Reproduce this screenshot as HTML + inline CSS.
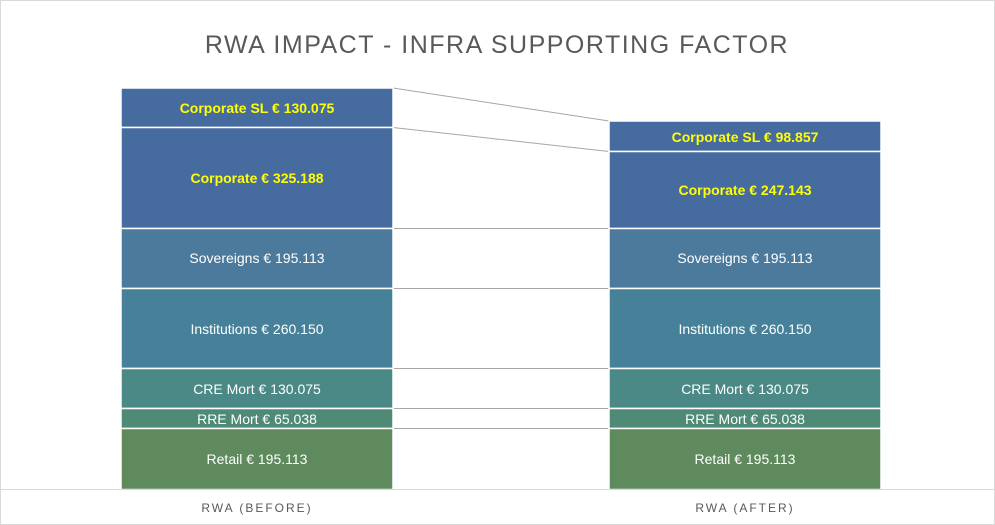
<!DOCTYPE html>
<html><head><style>body{margin:0;background:#fff}svg{display:block}</style></head><body>
<svg width="995" height="525" viewBox="0 0 995 525" xmlns="http://www.w3.org/2000/svg" font-family="Liberation Sans, sans-serif">
<rect x="0.5" y="0.5" width="994" height="524" fill="#fff" stroke="#d9d9d9"/>
<text x="497" y="53" text-anchor="middle" font-size="25" fill="#595959" letter-spacing="1.5">RWA IMPACT - INFRA SUPPORTING FACTOR</text>
<g stroke="#a6a6a6" stroke-width="1">
<line x1="393" y1="88" x2="609" y2="121"/>
<line x1="393" y1="127.5" x2="609" y2="151.5"/>
<line x1="393" y1="228.5" x2="609" y2="228.5"/>
<line x1="393" y1="288.5" x2="609" y2="288.5"/>
<line x1="393" y1="368.5" x2="609" y2="368.5"/>
<line x1="393" y1="408.5" x2="609" y2="408.5"/>
<line x1="393" y1="428.5" x2="609" y2="428.5"/>
</g>
<g stroke="#fff" stroke-width="1.5">
<rect x="121" y="88" width="272" height="39.5" fill="#466b9f"/>
<rect x="121" y="127.5" width="272" height="101" fill="#466b9f"/>
<rect x="121" y="228.5" width="272" height="60" fill="#4b7a9d"/>
<rect x="121" y="288.5" width="272" height="80" fill="#468199"/>
<rect x="121" y="368.5" width="272" height="40" fill="#4a8985"/>
<rect x="121" y="408.5" width="272" height="20" fill="#4f8a77"/>
<rect x="121" y="428.5" width="272" height="61" fill="#5e8a5d"/>
<rect x="609" y="121" width="272" height="30.5" fill="#466b9f"/>
<rect x="609" y="151.5" width="272" height="77" fill="#466b9f"/>
<rect x="609" y="228.5" width="272" height="60" fill="#4b7a9d"/>
<rect x="609" y="288.5" width="272" height="80" fill="#468199"/>
<rect x="609" y="368.5" width="272" height="40" fill="#4a8985"/>
<rect x="609" y="408.5" width="272" height="20" fill="#4f8a77"/>
<rect x="609" y="428.5" width="272" height="61" fill="#5e8a5d"/>
</g>
<line x1="0" y1="489.5" x2="995" y2="489.5" stroke="#d9d9d9"/>
<g text-anchor="middle" font-size="14" fill="#fff">
<text x="257" y="113" fill="#ffff00" font-weight="bold">Corporate SL € 130.075</text>
<text x="257" y="183" fill="#ffff00" font-weight="bold">Corporate € 325.188</text>
<text x="257" y="263">Sovereigns € 195.113</text>
<text x="257" y="334">Institutions € 260.150</text>
<text x="257" y="394">CRE Mort € 130.075</text>
<text x="257" y="424">RRE Mort € 65.038</text>
<text x="257" y="464">Retail € 195.113</text>
<text x="745" y="142" fill="#ffff00" font-weight="bold">Corporate SL € 98.857</text>
<text x="745" y="195" fill="#ffff00" font-weight="bold">Corporate € 247.143</text>
<text x="745" y="263">Sovereigns € 195.113</text>
<text x="745" y="334">Institutions € 260.150</text>
<text x="745" y="394">CRE Mort € 130.075</text>
<text x="745" y="424">RRE Mort € 65.038</text>
<text x="745" y="464">Retail € 195.113</text>
</g>
<g text-anchor="middle" font-size="12" fill="#595959" letter-spacing="2">
<text x="257" y="512">RWA (BEFORE)</text>
<text x="745" y="512">RWA (AFTER)</text>
</g>
</svg>
</body></html>
